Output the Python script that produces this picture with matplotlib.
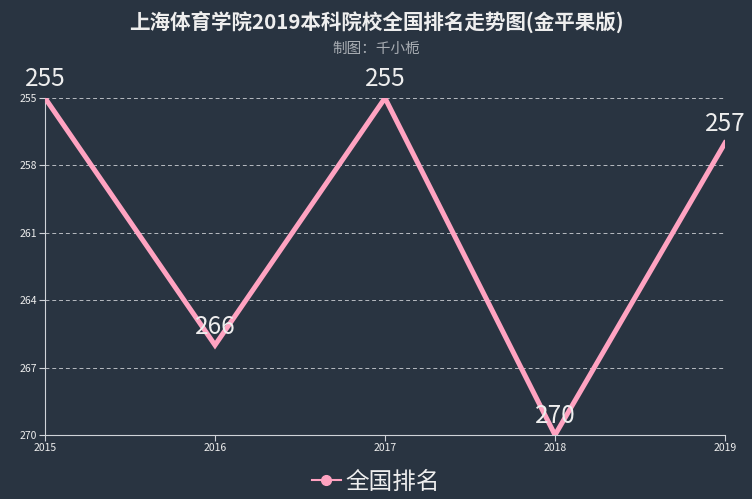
import matplotlib
matplotlib.use("Agg")
import matplotlib.pyplot as plt
from matplotlib.lines import Line2D

plt.rcParams['font.family'] = ['Noto Sans CJK SC', 'DejaVu Sans']

years = [2015, 2016, 2017, 2018, 2019]
ranks = [255, 266, 255, 270, 257]
yticks = [255, 258, 261, 264, 267, 270]
title = "上海体育学院2019本科院校全国排名走势图(金平果版)"
subtitle = "制图：千小栀"
series_name = "全国排名"

bg = "#293441"
line_color = "#ffa3c1"
axis_color = "#cfd3d8"

fig = plt.figure(figsize=(7.52, 4.99), dpi=100, facecolor=bg)
ax = fig.add_axes([45/752, (499-435)/499, (725-45)/752, (435-98)/499])
ax.set_facecolor(bg)

ax.plot(years, ranks, color=line_color, linewidth=3.6, solid_joinstyle='miter',
        label=series_name, zorder=3)
for x, y in zip(years, ranks):
    ax.annotate(str(y), (x, y), xytext=(0, 4), textcoords='offset points',
                ha='center', va='bottom', fontsize=17.5, color='#eeeeee', zorder=4)

ax.set_xlim(years[0], years[-1])
ax.set_ylim(270, 255)
ax.set_xticks(years)
ax.set_xticklabels([str(y) for y in years])
ax.set_yticks(yticks)
ax.tick_params(colors='#eeeeee', labelsize=7.5, length=4, width=0.8, pad=1.5)
ax.tick_params(axis='x', color=axis_color)
ax.tick_params(axis='y', color=axis_color)
for s in ['top', 'right']:
    ax.spines[s].set_visible(False)
for s in ['left', 'bottom']:
    ax.spines[s].set_color(axis_color)
    ax.spines[s].set_linewidth(0.8)
ax.grid(axis='y', color='#b8bcc2', linestyle=(0, (4, 3)), linewidth=0.7)
ax.set_axisbelow(True)

fig.text(0.5, 1 - 22/499, title, ha='center', va='center', fontsize=14.8,
         fontweight='bold', color='#eeeeee')
fig.text(0.5, 1 - 49/499, subtitle, ha='center', va='center', fontsize=10.5,
         color='#a9aeb4')

h = [Line2D([0], [0], color=line_color, linewidth=1.5, marker='o', markersize=7)]
leg = fig.legend(h, [series_name], loc='center', bbox_to_anchor=(0.5, 1 - 482/499),
                 frameon=False, fontsize=17, handlelength=1.2, handletextpad=0.2,
                 labelcolor='#eeeeee')

fig.savefig("out.png", dpi=100, facecolor=bg)
